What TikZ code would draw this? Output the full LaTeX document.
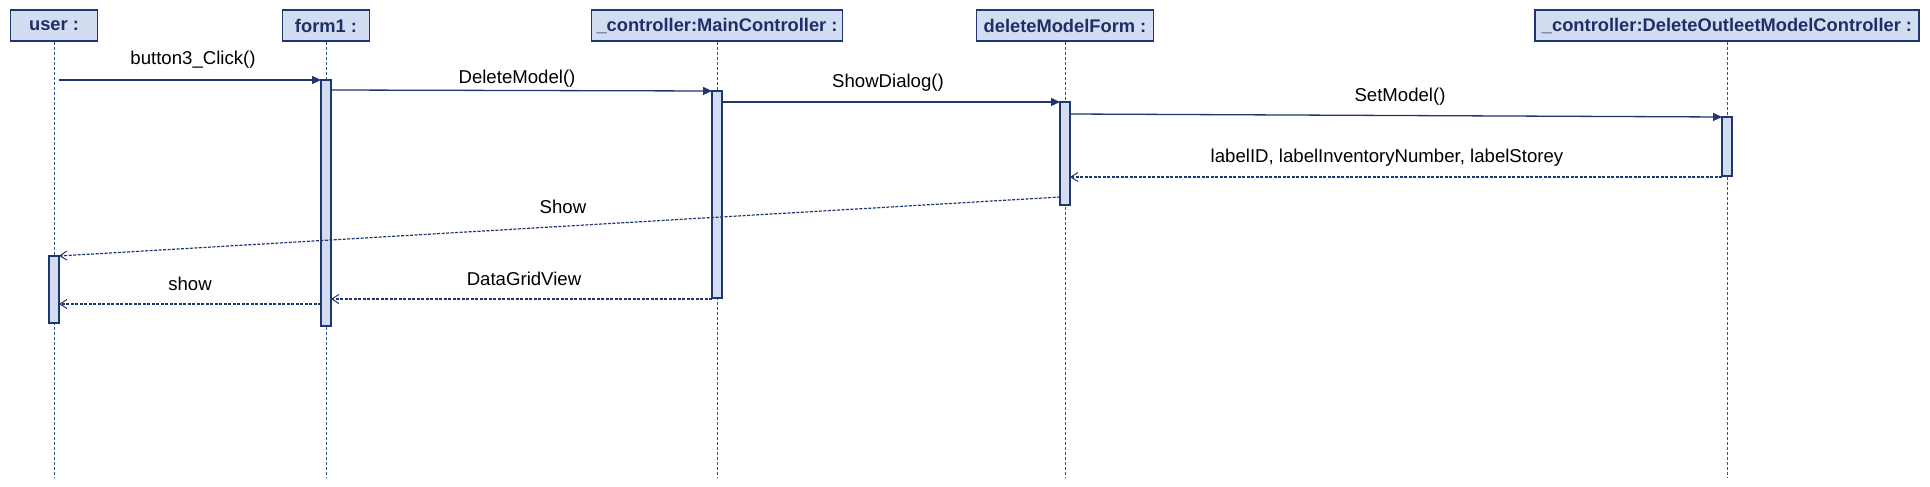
\documentclass[tikz,border=0pt]{standalone}
\usepackage{fontspec}
\setmainfont{Liberation Sans}
\usetikzlibrary{arrows.meta}
\definecolor{seqnavy}{HTML}{1F3670}
\definecolor{seqfill}{HTML}{D3DDF1}
\definecolor{seqtext}{HTML}{1F2F66}
\definecolor{seqlife}{HTML}{34528F}
\begin{document}
\begin{tikzpicture}[x=1pt,y=-1pt,
  obj/.style={draw=seqnavy,fill=seqfill,line width=1.3pt,minimum height=31pt,inner sep=1pt,
    text=seqtext,font=\fontsize{18.3}{22}\selectfont\bfseries},
  life/.style={draw=seqlife,line width=1pt,dash pattern=on 3pt off 2pt},
  act/.style={draw=seqnavy,fill=seqfill,line width=1.3pt},
  call/.style={draw=seqnavy,line width=1.3pt,-{Triangle[length=9pt,width=8pt]}},
  reply/.style={draw=seqnavy,line width=1.2pt,dash pattern=on 3pt off 1.5pt,
    -{Straight Barb[length=7pt,width=9pt,line width=1pt]}},
  msg/.style={anchor=base,font=\fontsize{18.6}{21}\selectfont}]

\useasboundingbox (0,0) rectangle (1930,487);

% objects
\node[obj,minimum width=87pt] (user) at (54,25.5) {user :};
\node[obj,minimum width=87pt] (form) at (326,25.5) {form1 :};
\node[obj,minimum width=251pt] (main) at (717,25.5) {\_controller:MainController :};
\node[obj,minimum width=177pt] (dmf) at (1065,25.5) {deleteModelForm :};
\node[obj,minimum width=384pt] (doc) at (1727,25.5) {\_controller:DeleteOutleetModelController :};

% lifelines
\coordinate (user end) at (54,477);
\coordinate (form end) at (326,477);
\coordinate (main end) at (717,477);
\coordinate (dmf end) at (1065,477);
\coordinate (doc end) at (1727,477);
\draw[life] (user) -- (user end);
\draw[life] (form) -- (form end);
\draw[life] (main) -- (main end);
\draw[life] (dmf) -- (dmf end);
\draw[life] (doc) -- (doc end);

% activations
\draw[act] (49,256) rectangle (59,323);
\draw[act] (321,80) rectangle (331,326);
\draw[act] (712,91) rectangle (722,298);
\draw[act] (1060,102) rectangle (1070,205);
\draw[act] (1722,117) rectangle (1732,176);

% message ends
\coordinate (m1a) at (59,80);    \coordinate (m1b) at (321,80);
\coordinate (m2a) at (331,90);   \coordinate (m2b) at (712,91);
\coordinate (m3a) at (722,102);  \coordinate (m3b) at (1060,102);
\coordinate (m4a) at (1070,114); \coordinate (m4b) at (1722,117);
\coordinate (r1a) at (1722,177); \coordinate (r1b) at (1070,177);
\coordinate (r2a) at (1060,197); \coordinate (r2b) at (59,256);
\coordinate (r3a) at (712,299);  \coordinate (r3b) at (331,299);
\coordinate (r4a) at (321,304);  \coordinate (r4b) at (59,304);

\draw[call] (m1a) -- (m1b);
\draw[call] (m2a) -- (m2b);
\draw[call] (m3a) -- (m3b);
\draw[call] (m4a) -- (m4b);
\draw[reply] (r1a) -- (r1b);
\draw[reply] (r2a) -- (r2b);
\draw[reply] (r3a) -- (r3b);
\draw[reply] (r4a) -- (r4b);

% labels
\node[msg] (l1) at (193,64) {button3\_Click()};
\node[msg] (l2) at (517,84) {DeleteModel()};
\node[msg] (l3) at (888,88) {ShowDialog()};
\node[msg] (l4) at (1400,101) {SetModel()};
\node[msg] (l5) at (1387,162) {labelID, labelInventoryNumber, labelStorey};
\node[msg] (l6) at (563,213) {Show};
\node[msg] (l7) at (524,285) {DataGridView};
\node[msg] (l8) at (190,290) {show};
\end{tikzpicture}
\end{document}
